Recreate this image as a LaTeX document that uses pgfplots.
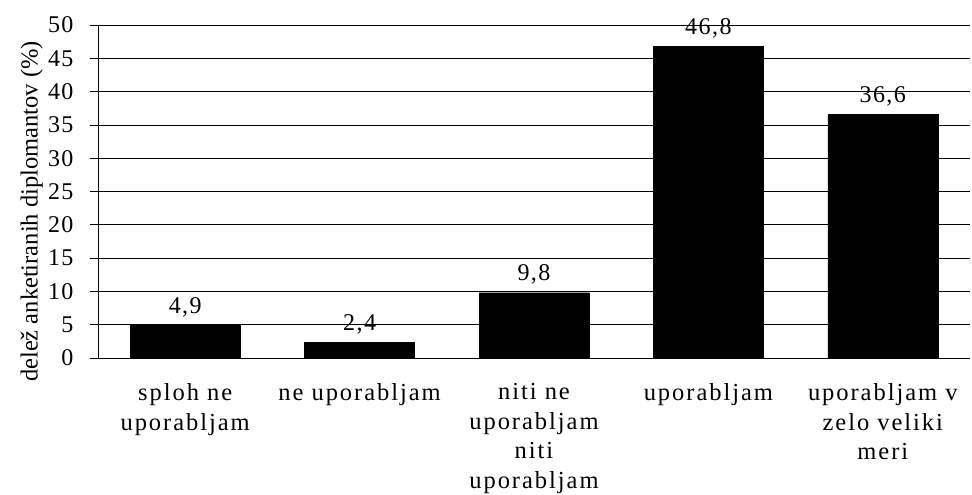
\documentclass[border=0pt]{standalone}
\usepackage{pgfplots}
\pgfplotsset{compat=1.18}
\usepackage{fontspec}
\setmainfont{Liberation Serif}
\newfontfamily\catfont[LetterSpace=8]{Liberation Serif}
\newfontfamily\numfont[LetterSpace=6]{Liberation Serif}
\begin{document}
\begin{tikzpicture}
\path[use as bounding box] (-98pt,-137pt) rectangle (874pt,358pt);
\begin{axis}[
  at={(0,0)}, anchor=south west,
  scale only axis,
  width=872pt, height=333pt,
  xmin=-0.5, xmax=4.5,
  ymin=0, ymax=50,
  ytick={0,5,...,50},
  xtick=data,
  xticklabels={{sploh ne\\uporabljam},{ne uporabljam},{niti ne\\uporabljam\\niti\\uporabljam},{uporabljam},{uporabljam v\\zelo veliki\\meri}},
  xticklabel style={align=center, font=\fontsize{24.5}{29.5}\selectfont\catfont, yshift=-14pt},
  x tick style={draw=none},
  axis x line*=bottom,
  axis y line*=left,
  axis line style={-, black, line width=0.8pt},
  ymajorgrids,
  grid style={black, line width=0.7pt},
  tick align=outside,
  major tick length=8pt,
  y tick style={black, line width=0.7pt},
  yticklabel style={font=\fontsize{24}{26}\selectfont\numfont, xshift=-13pt},
  /pgf/number format/assume math mode=true,
  ylabel={delež anketiranih diplomantov (\%)},
  every axis y label/.style={at={(axis description cs:-0.076,0.44)}, rotate=90, anchor=center, font=\fontsize{24.5}{26}\selectfont},
  nodes near coords,
  nodes near coords style={font=\fontsize{24}{26}\selectfont\numfont, anchor=base, yshift=12pt, inner sep=0pt,
    /pgf/number format/.cd, use comma, fixed, precision=1, fixed zerofill, assume math mode=true},
]
\addplot[ybar, bar width=110pt, fill=black, draw=black] coordinates {
  (0,4.9) (1,2.4) (2,9.8) (3,46.8) (4,36.6)
};
\end{axis}
\end{tikzpicture}
\end{document}
